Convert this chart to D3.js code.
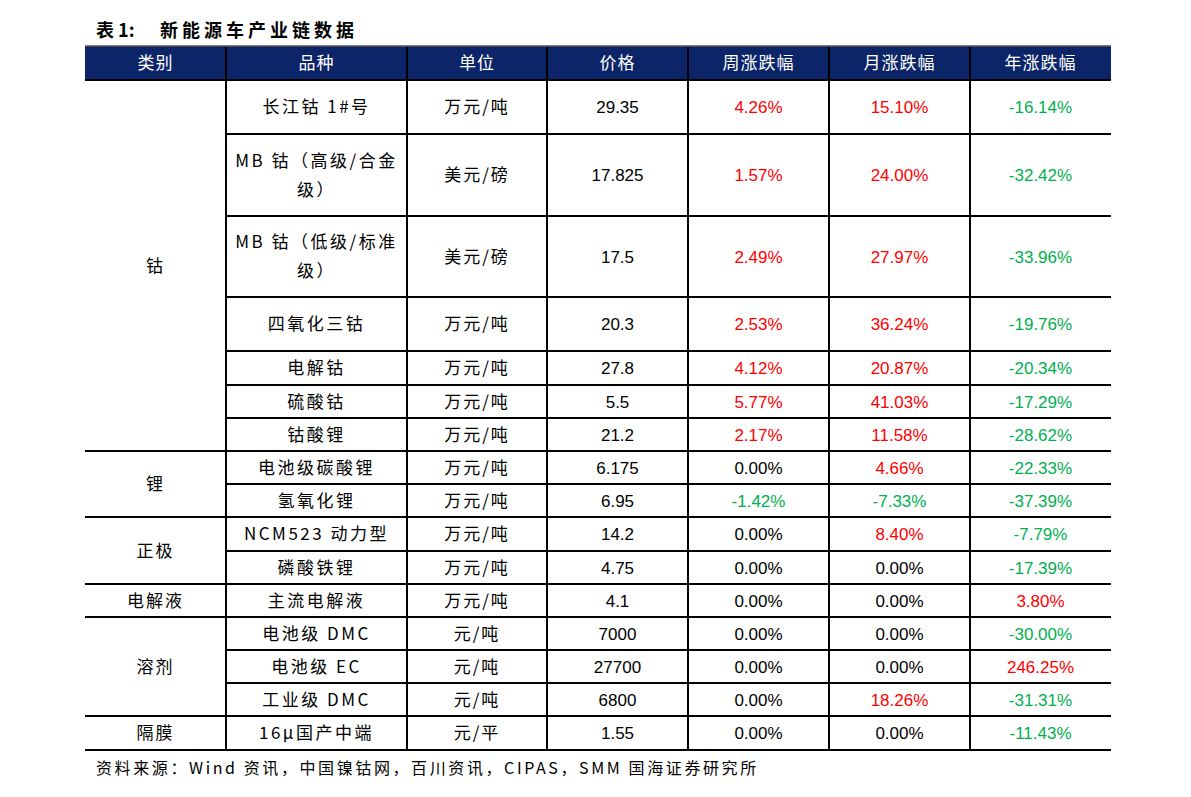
<!DOCTYPE html>
<html><head><meta charset="utf-8">
<script src="https://cdn.jsdelivr.net/npm/d3@7"></script>
<style>body{margin:0;background:#fff}svg{display:block}</style>
</head><body>
<script>
// ---- data ----
const headers = ["类别","品种","单位","价格","周涨跌幅","月涨跌幅","年涨跌幅"];
const groups = [
  {name:"钴", count:7},
  {name:"锂", count:2},
  {name:"正极", count:2},
  {name:"电解液", count:1},
  {name:"溶剂", count:3},
  {name:"隔膜", count:1}
];
const varieties = ["长江钴 1#号","MB 钴（高级/合金\n级）","MB 钴（低级/标准\n级）","四氧化三钴","电解钴","硫酸钴","钴酸锂",
  "电池级碳酸锂","氢氧化锂","NCM523 动力型","磷酸铁锂","主流电解液","电池级 DMC","电池级 EC","工业级 DMC","16μ国产中端"];
const units = ["万元/吨","美元/磅","美元/磅","万元/吨","万元/吨","万元/吨","万元/吨","万元/吨","万元/吨","万元/吨","万元/吨","万元/吨","元/吨","元/吨","元/吨","元/平"];
const prices = ["29.35","17.825","17.5","20.3","27.8","5.5","21.2","6.175","6.95","14.2","4.75","4.1","7000","27700","6800","1.55"];
const weekly = [4.26,1.57,2.49,2.53,4.12,5.77,2.17,0.00,-1.42,0.00,0.00,0.00,0.00,0.00,0.00,0.00];
const monthly = [15.10,24.00,27.97,36.24,20.87,41.03,11.58,4.66,-7.33,8.40,0.00,0.00,0.00,0.00,18.26,0.00];
const yearly = [-16.14,-32.42,-33.96,-19.76,-20.34,-17.29,-28.62,-22.33,-37.39,-7.79,-17.39,3.80,-30.00,246.25,-31.31,-11.43];
const titleLabel = "表 1:";
const titleText = "新能源车产业链数据";
const source = "资料来源：Wind 资讯，中国镍钴网，百川资讯，CIPAS，SMM 国海证券研究所";

// ---- layout ----
const colWidths = [141,181,140,141,141,141,141];
const rowHeights = [54,82,81,54,34,33,33,33,33,34,33,33,33,33,33,34];
const left = 85, headTop = 46, headH = 34;
const bodyTop = headTop + headH;

const colEdges = [left, ...d3.cumsum(colWidths).map(v => left + v)];
const rowEdges = [bodyTop, ...d3.cumsum(rowHeights).map(v => bodyTop + v)];
const xCol = d3.scaleOrdinal().domain(d3.range(colWidths.length)).range(colEdges.slice(0,-1));
const yRow = d3.scaleOrdinal().domain(d3.range(rowHeights.length)).range(rowEdges.slice(0,-1));
const colCenter = i => xCol(i) + colWidths[i]/2;
const rowCenter = i => yRow(i) + rowHeights[i]/2;
const right = colEdges[colEdges.length-1];

const cjk = "'Noto Sans CJK SC','Noto Sans',sans-serif";
const num = "'Liberation Sans',Arial,sans-serif";
const color = v => v > 0 ? "#ff0000" : v < 0 ? "#00b050" : "#000000";
const fmt = v => v.toFixed(2) + "%";

const svg = d3.select("body").append("svg").attr("width",1191).attr("height",797);

svg.append("text").attr("x",96).attr("y",37).attr("font-family",cjk).attr("font-weight","bold")
  .attr("font-size",18).text(titleLabel);
svg.append("text").attr("x",160).attr("y",37).attr("font-family",cjk).attr("font-weight","bold")
  .attr("font-size",18).attr("letter-spacing",4).text(titleText);

// header
svg.append("rect").attr("x",left).attr("y",headTop).attr("width",right-left).attr("height",headH).attr("fill","#0c2468");
svg.append("line").attr("x1",left).attr("x2",right).attr("y1",headTop).attr("y2",headTop).attr("stroke","#555").attr("stroke-width",1.5);
svg.selectAll("text.h").data(headers).join("text").attr("class","h")
  .attr("x",(d,i)=>colCenter(i)).attr("y",headTop+headH/2).attr("dy","0.36em")
  .attr("text-anchor","middle").attr("fill","#fff").attr("font-family",cjk).attr("font-size",17).attr("letter-spacing",1).text(d=>d);

// group rows
let start = 0;
const groupInfo = groups.map(g => { const o = {name:g.name, s:start, e:start+g.count}; start += g.count; return o; });

// grid lines
const g = svg.append("g").attr("stroke","#000").attr("stroke-width",2);
colEdges.slice(1,-1).forEach(x => g.append("line").attr("x1",x).attr("x2",x).attr("y1",headTop+1).attr("y2",rowEdges[rowEdges.length-1]));
const groupStarts = new Set(groupInfo.map(o=>o.s));
rowEdges.forEach((y,i) => {
  const full = i===0 || i===rowEdges.length-1 || groupStarts.has(i);
  g.append("line").attr("x1", full?left:colEdges[1]).attr("x2",right).attr("y1",y).attr("y2",y);
});

// category text
svg.selectAll("text.cat").data(groupInfo).join("text").attr("class","cat")
  .attr("x",colCenter(0)).attr("y",d=>(rowEdges[d.s]+rowEdges[d.e])/2).attr("dy","0.36em")
  .attr("text-anchor","middle").attr("font-family",cjk).attr("font-size",17).attr("letter-spacing",2).text(d=>d.name);

// variety (may wrap)
varieties.forEach((v,i) => {
  const lines = v.split("\n");
  const t = svg.append("text").attr("text-anchor","middle").attr("font-family",cjk).attr("font-size",17).attr("letter-spacing",2.5);
  const lh = 29;
  lines.forEach((l,k) => {
    t.append("tspan").attr("x",colCenter(1)).attr("y",rowCenter(i) + (k-(lines.length-1)/2)*lh).attr("dy","0.36em").text(l);
  });
});
svg.selectAll("text.u").data(units).join("text").attr("class","u")
  .attr("x",colCenter(2)).attr("y",(d,i)=>rowCenter(i)).attr("dy","0.36em")
  .attr("text-anchor","middle").attr("font-family",cjk).attr("font-size",17).attr("letter-spacing",2).text(d=>d);
svg.selectAll("text.p").data(prices).join("text").attr("class","p")
  .attr("x",colCenter(3)).attr("y",(d,i)=>rowCenter(i)).attr("dy","0.36em")
  .attr("text-anchor","middle").attr("font-family",num).attr("font-size",17).text(d=>d);
[[weekly,4],[monthly,5],[yearly,6]].forEach(([arr,c]) => {
  svg.selectAll("text.c"+c).data(arr).join("text").attr("class","c"+c)
    .attr("x",colCenter(c)).attr("y",(d,i)=>rowCenter(i)).attr("dy","0.36em")
    .attr("text-anchor","middle").attr("font-family",num).attr("font-size",17).attr("fill",d=>color(d)).text(d=>fmt(d));
});

svg.append("text").attr("x",96).attr("y",774).attr("font-family",cjk).attr("font-size",16).attr("letter-spacing",2.6).text(source);
</script>
</body></html>
